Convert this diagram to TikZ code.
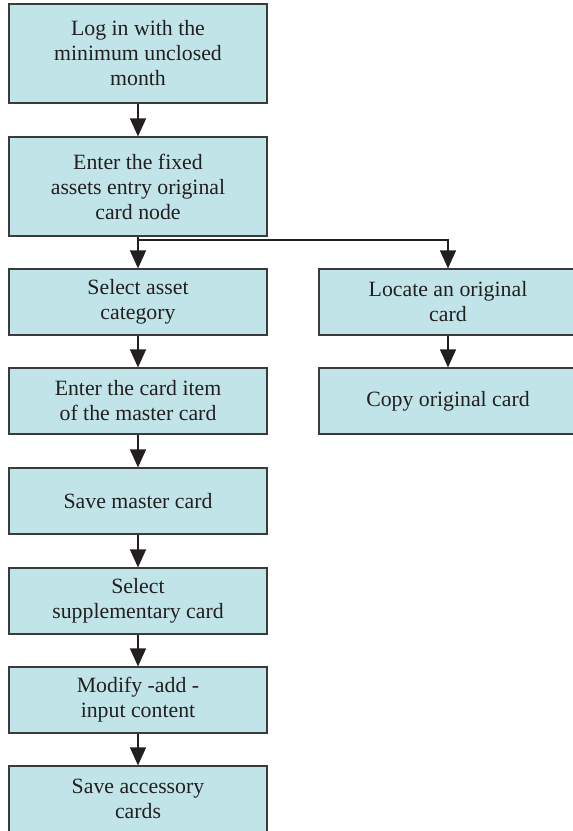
\documentclass[tikz,border=0pt]{standalone}
\usepackage{fontspec}
\setmainfont{Liberation Serif}
\usetikzlibrary{arrows.meta}
\definecolor{boxfill}{RGB}{193,228,233}
\definecolor{boxline}{RGB}{58,58,58}
\definecolor{ink}{RGB}{35,31,32}
\tikzset{
  stepbox/.style={draw=boxline, fill=boxfill, line width=1.2pt,
    rectangle, minimum width=258pt, minimum height=66pt,
    inner sep=0pt, align=center, text=ink,
    font=\fontsize{21.8}{25}\selectfont},
  tallbox/.style={stepbox, minimum height=99pt},
  flow/.style={draw=ink, line width=1.2pt,
    -{Triangle[length=18pt,width=16pt]}},
}
\begin{document}
\begin{tikzpicture}[x=1pt,y=-1pt]
\useasboundingbox (0,0) rectangle (573,831);
\clip (0,0) rectangle (573,831);

% main column
\node[tallbox] (b1) at (138,53.5) {Log in with the\\minimum unclosed\\month};
\node[tallbox] (b2) at (138,186.5) {Enter the fixed\\assets entry original\\card node};
\node[stepbox] (b3) at (138,302) {Select asset\\category};
\node[stepbox] (b4) at (138,401) {Enter the card item\\of the master card};
\node[stepbox] (b5) at (138,501) {Save master card};
\node[stepbox] (b6) at (138,601) {Select\\supplementary card};
\node[stepbox] (b7) at (138,700) {Modify -add -\\input content};
\node[stepbox] (b8) at (138,799) {Save accessory\\cards};

% side branch
\node[stepbox] (r1) at (448,302) {Locate an original\\card};
\node[stepbox] (r2) at (448,401) {Copy original card};

\coordinate (split) at (138,240);

\draw[flow] (b1.south) -- (b2.north);
\draw[flow] (b2.south) -- (b3.north);
\draw[flow] (split) -| (r1.north);
\draw[flow] (b3.south) -- (b4.north);
\draw[flow] (b4.south) -- (b5.north);
\draw[flow] (b5.south) -- (b6.north);
\draw[flow] (b6.south) -- (b7.north);
\draw[flow] (b7.south) -- (b8.north);
\draw[flow] (r1.south) -- (r2.north);
\end{tikzpicture}
\end{document}
